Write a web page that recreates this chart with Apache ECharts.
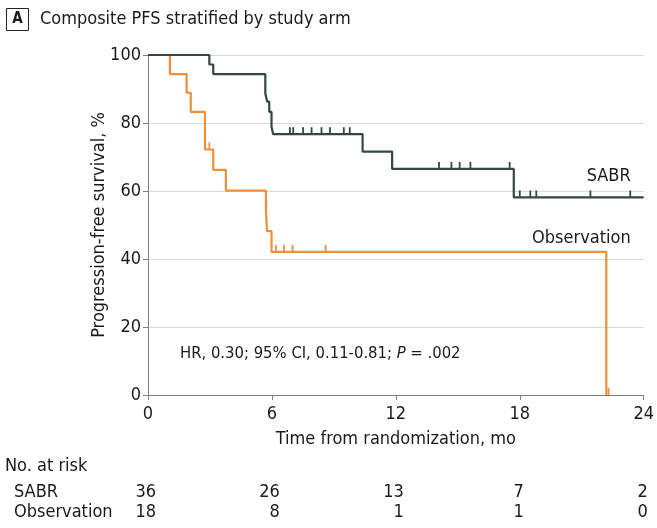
<!DOCTYPE html>
<html>
<head>
<meta charset="utf-8">
<script src="https://cdn.jsdelivr.net/npm/echarts@6/dist/echarts.min.js"></script>
<style>
html,body{margin:0;padding:0;background:#fff;}
#chart{width:657px;height:528px;}
</style>
</head>
<body>
<div id="chart"></div>
<script>
// ---- data ----
var sabrTimes = [0, 2.97, 3.16, 5.68, 5.77, 5.87, 5.98, 6.06, 10.39, 11.82, 17.71, 24];
var sabrSurv  = [100, 97.2, 94.4, 88.7, 86.3, 83.3, 78.9, 76.7, 71.6, 66.5, 58.1, 58.1];
var sabrCensor = [6.87, 7.03, 7.51, 7.92, 8.40, 8.81, 9.48, 9.77, 14.09, 14.69, 15.09, 15.61, 17.51, 18.0, 18.51, 18.8, 21.42, 23.35];

var obsTimes = [0, 1.06, 1.87, 2.07, 2.76, 3.16, 3.77, 5.71, 5.76, 5.98, 22.19];
var obsSurv  = [100, 94.4, 88.9, 83.3, 72.2, 66.2, 60.1, 54.7, 48.2, 42.1, 0];
var obsCensor = [2.97, 5.73, 6.19, 6.59, 7.0, 8.6, 22.3];

var xTicks = [0, 6, 12, 18, 24];
var riskGroups = ['SABR', 'Observation'];
var riskSABR = [36, 26, 13, 7, 2];
var riskObs  = [18, 8, 1, 1, 0];

var titleText = 'Composite PFS stratified by study arm';
var panelLetter = 'A';
var xName = 'Time from randomization, mo';
var yName = 'Progression-free survival, %';

// ---- helpers ----
function pairs(t, s) { return t.map(function (v, i) { return [v, s[i]]; }); }
function survAt(t, s, x) {
  var v = s[0];
  for (var i = 0; i < t.length; i++) { if (t[i] <= x) v = s[i]; }
  return v;
}
function censorPts(ct, t, s) { return ct.map(function (x) { return [x, survAt(t, s, x)]; }); }

var FONT = '"Liberation Sans Narrow", "DejaVu Sans Condensed", "Noto Sans", sans-serif';
var C_SABR = '#34464a';
var C_OBS = '#ef8f37';
var TXT = '#1a1a1a';

function tickRender(color) {
  return function (params, api) {
    var p = api.coord([api.value(0), api.value(1)]);
    return {
      type: 'line',
      shape: { x1: p[0], y1: p[1], x2: p[0], y2: p[1] - 7 },
      style: { stroke: color, lineWidth: 1.8 }
    };
  };
}

var chart = echarts.init(document.getElementById('chart'), null, { renderer: 'canvas' });

var option = {
  animation: false,
  backgroundColor: '#fff',
  textStyle: { fontFamily: FONT },
  grid: { left: 148, right: 13, top: 55, bottom: 133, containLabel: false },
  xAxis: {
    type: 'value', min: 0, max: 24, interval: 6,
    name: xName, nameLocation: 'middle', nameGap: 35, nameMoveOverlap: false,
    nameTextStyle: { fontFamily: FONT, fontSize: 18, color: TXT },
    axisLine: { show: true, lineStyle: { color: '#7f7f7f', width: 1 } },
    axisTick: { show: true, length: 5, lineStyle: { color: '#7f7f7f' } },
    axisLabel: { fontFamily: FONT, fontSize: 18, color: TXT, margin: 10 },
    splitLine: { show: false }
  },
  yAxis: {
    type: 'value', min: 0, max: 100, interval: 20,
    name: yName, nameLocation: 'middle', nameGap: 40, nameRotate: 90, nameMoveOverlap: false,
    nameTextStyle: { fontFamily: FONT, fontSize: 18, color: TXT },
    axisLine: { show: true, lineStyle: { color: '#7f7f7f', width: 1 } },
    axisTick: { show: true, length: 5, lineStyle: { color: '#7f7f7f' } },
    axisLabel: { fontFamily: FONT, fontSize: 18, color: TXT, margin: 7 },
    splitLine: { show: true, lineStyle: { color: '#d9d9d9', width: 1 } }
  },
  series: [
    {
      name: 'Observation', type: 'line', step: 'end', symbol: 'none',
      data: pairs(obsTimes, obsSurv),
      lineStyle: { color: C_OBS, width: 2.2 }, z: 3
    },
    {
      name: 'SABR', type: 'line', step: 'end', symbol: 'none',
      data: pairs(sabrTimes, sabrSurv),
      lineStyle: { color: C_SABR, width: 2.2 }, z: 4
    },
    {
      type: 'custom', renderItem: tickRender(C_OBS),
      data: censorPts(obsCensor, obsTimes, obsSurv), z: 3
    },
    {
      type: 'custom', renderItem: tickRender(C_SABR),
      data: censorPts(sabrCensor, sabrTimes, sabrSurv), z: 4
    }
  ]
};
chart.setOption(option);

// ---- text elements positioned via the axes ----
function px(x, y) { return chart.convertToPixel({ gridIndex: 0 }, [x, y]); }
var g = [];
g.push({ type: 'rect', shape: { x: 6.5, y: 8.5, width: 22, height: 22 }, style: { fill: '#fff', stroke: '#222', lineWidth: 1 } });
g.push({ type: 'text', x: 17.5, y: 19.5, style: { text: panelLetter, font: 'bold 15px ' + FONT, fill: TXT, align: 'center', verticalAlign: 'middle' } });
g.push({ type: 'text', x: 40, y: 19, style: { text: titleText, font: '18px ' + FONT, fill: TXT, align: 'left', verticalAlign: 'middle' } });

var pS = px(24, 58.1);
g.push({ type: 'text', x: pS[0] - 13, y: pS[1] - 21, style: { text: 'SABR', font: '18px ' + FONT, fill: TXT, align: 'right', verticalAlign: 'middle' } });
var pO = px(24, 42.1);
g.push({ type: 'text', x: pO[0] - 13, y: pO[1] - 14, style: { text: 'Observation', font: '18px ' + FONT, fill: TXT, align: 'right', verticalAlign: 'middle' } });

var pHR = px(1.55, 12);
g.push({ type: 'text', x: pHR[0], y: pHR[1], style: {
  text: '{n|HR, 0.30; 95% CI, 0.11-0.81; }{i|P}{n| = .002}',
  rich: { n: { font: '16.5px ' + FONT, fill: TXT }, i: { font: 'italic 16.5px ' + FONT, fill: TXT } },
  align: 'left', verticalAlign: 'middle' } });

g.push({ type: 'text', x: 5, y: 466, style: { text: 'No. at risk', font: '18px ' + FONT, fill: TXT, align: 'left', verticalAlign: 'middle' } });
var rows = [riskSABR, riskObs];
var rowY = [492, 512];
riskGroups.forEach(function (name, r) {
  g.push({ type: 'text', x: 14, y: rowY[r], style: { text: name, font: '18px ' + FONT, fill: TXT, align: 'left', verticalAlign: 'middle' } });
});
xTicks.forEach(function (t, c) {
  var maxLen = Math.max(String(riskSABR[c]).length, String(riskObs[c]).length);
  var xp = px(t, 0)[0] + maxLen * 4;
  rows.forEach(function (row, r) {
    g.push({ type: 'text', x: xp, y: rowY[r], style: { text: String(row[c]), font: '18px ' + FONT, fill: TXT, align: 'right', verticalAlign: 'middle' } });
  });
});
chart.setOption({ graphic: { elements: g } });
</script>
</body>
</html>
